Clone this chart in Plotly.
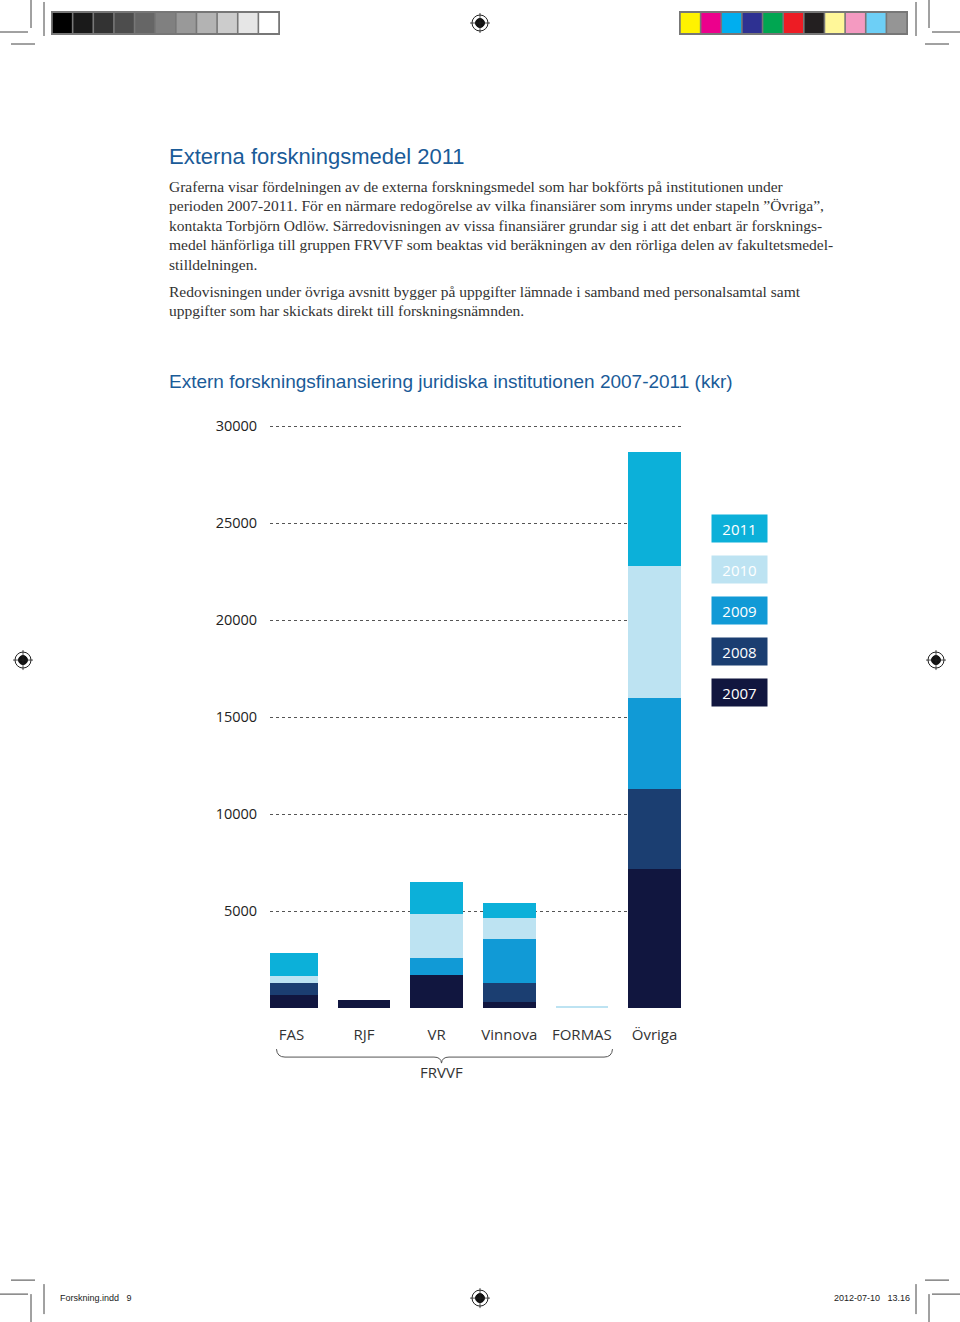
import plotly.graph_objects as go

W, H = 960, 1322

categories = ["FAS", "RJF", "VR", "Vinnova", "FORMAS", "Övriga"]
years = ["2007", "2008", "2009", "2010", "2011"]
v2007 = [655, 400, 1700, 325, 0, 7150]
v2008 = [650, 0, 0, 980, 0, 4125]
v2009 = [0, 0, 860, 2235, 0, 4720]
v2010 = [345, 0, 2270, 1080, 100, 6790]
v2011 = [1200, 0, 1665, 805, 0, 5890]
series = [v2007, v2008, v2009, v2010, v2011]
colors = ["#11163f", "#1b3e71", "#119ad6", "#bde3f2", "#0cb0d9"]
y_ticks = [5000, 10000, 15000, 20000, 25000, 30000]

title_text = "Externa forskningsmedel 2011"
chart_title = "Extern forskningsfinansiering juridiska institutionen 2007-2011 (kkr)"
body_lines = [
    "Graferna visar fördelningen av de externa forskningsmedel som har bokförts på institutionen under",
    "perioden 2007-2011. För en närmare redogörelse av vilka finansiärer som inryms under stapeln ”Övriga”,",
    "kontakta Torbjörn Odlöw. Särredovisningen av vissa finansiärer grundar sig i att det enbart är forsknings-",
    "medel hänförliga till gruppen FRVVF som beaktas vid beräkningen av den rörliga delen av fakultetsmedel-",
    "stilldelningen.",
]
body_lines2 = [
    "Redovisningen under övriga avsnitt bygger på uppgifter lämnade i samband med personalsamtal samt",
    "uppgifter som har skickats direkt till forskningsnämnden.",
]
group_label = "FRVVF"
footer_left = "Forskning.indd   9"
footer_right = "2012-07-10   13.16"
gray_strip = ["#000000", "#1a1a1a", "#333333", "#4d4d4d", "#666666", "#808080",
              "#999999", "#b3b3b3", "#cccccc", "#e6e6e6", "#ffffff"]
color_strip = ["#fff200", "#ec008c", "#00aeef", "#2e3192", "#00a651", "#ed1c24",
               "#231f20", "#fff799", "#f49ac1", "#6dcff6", "#959595"]


def px(x, y):
    yy = (y - 4) / 0.9969
    return x / W, 1 - yy / H


fig = go.Figure()
for yr, vals, col in zip(years, series, colors):
    fig.add_trace(go.Bar(x=categories, y=vals, name=yr, marker=dict(color=col, line=dict(width=0)),
                         showlegend=False))

x0, ytop = px(270, 420.2)
x1, ybot = px(681, 1008)

fig.update_layout(
    width=W, height=H, barmode="stack", bargap=0.277,
    margin=dict(l=0, r=0, t=0, b=0),
    paper_bgcolor="white", plot_bgcolor="white",
    xaxis=dict(domain=[x0, x1], range=[-0.296, 5.365], showgrid=False, showline=False,
               zeroline=False, ticks="outside", ticklen=13, tickcolor="rgba(0,0,0,0)",
               tickfont=dict(family="Open Sans", size=15, color="#333333")),
    yaxis=dict(domain=[ybot, ytop], range=[0, 30300], tickvals=y_ticks, tickformat="d",
               showgrid=True, gridcolor="#555555", gridwidth=1, griddash="3px,3px",
               zeroline=False, showline=False, ticks="outside", ticklen=9,
               tickcolor="rgba(0,0,0,0)",
               tickfont=dict(family="Open Sans", size=14.5, color="#222222")),
)

annotations = []
shapes = []

# Titles and body text
tx, ty = px(166.5, 156)
annotations.append(dict(x=tx, y=ty, xref="paper", yref="paper", xanchor="left", yanchor="middle",
                        text=title_text, showarrow=False,
                        font=dict(family="Liberation Sans", size=22, color="#1a5b98")))
for i, line in enumerate(body_lines):
    lx, ly = px(166.5, 186 + 19.5 * i)
    annotations.append(dict(x=lx, y=ly, xref="paper", yref="paper", xanchor="left", yanchor="middle",
                            text=line, showarrow=False,
                            font=dict(family="Liberation Serif", size=15.5, color="#333333")))
for i, line in enumerate(body_lines2):
    lx, ly = px(166.5, 291 + 19.5 * i)
    annotations.append(dict(x=lx, y=ly, xref="paper", yref="paper", xanchor="left", yanchor="middle",
                            text=line, showarrow=False,
                            font=dict(family="Liberation Serif", size=15.5, color="#333333")))
cx, cy = px(166.5, 381)
annotations.append(dict(x=cx, y=cy, xref="paper", yref="paper", xanchor="left", yanchor="middle",
                        text=chart_title, showarrow=False,
                        font=dict(family="Liberation Sans", size=19, color="#1a5b98")))

# Legend boxes
leg_centers = {"2011": 528.7, "2010": 569.7, "2009": 610.3, "2008": 651.3, "2007": 692.2}
for yr, col in zip(years, colors):
    lx, ly = px(739.8, leg_centers[yr])
    annotations.append(dict(x=lx, y=ly, xref="paper", yref="paper", xanchor="center", yanchor="middle",
                            text=yr, showarrow=False, width=55, height=27, borderpad=0,
                            bgcolor=col, font=dict(family="Open Sans", size=15, color="white")))

# Brace for FRVVF group
def P(x, y):
    a, b = px(x, y)
    return f"{a:.5f},{b:.5f}"

brace = (f"M {P(276.5,1049)} Q {P(277,1057)} {P(285,1057)} L {P(434,1057)} "
         f"Q {P(441,1057)} {P(441.5,1063)} Q {P(442,1057)} {P(449,1057)} L {P(604,1057)} "
         f"Q {P(612,1057)} {P(612.5,1049)}")
shapes.append(dict(type="path", path=brace, xref="paper", yref="paper",
                   line=dict(color="#555555", width=1)))
gx, gy = px(441, 1071.5)
annotations.append(dict(x=gx, y=gy, xref="paper", yref="paper", xanchor="center", yanchor="middle",
                        text=group_label, showarrow=False,
                        font=dict(family="Open Sans", size=15, color="#333333")))

# Print color strips
def rect(xa, ya, xb, yb, fill, line_col=None, lw=0):
    a, b = px(xa, ya)
    c, d = px(xb, yb)
    shapes.append(dict(type="rect", xref="paper", yref="paper", x0=a, y0=d, x1=c, y1=b,
                       fillcolor=fill, line=dict(color=line_col or fill, width=lw)))

cell = (279 - 52) / len(gray_strip)
rect(51, 11, 280, 35, "#777777")
for i, c in enumerate(gray_strip):
    rect(52 + i * cell + 0.8, 13, 52 + (i + 1) * cell - 0.8, 33, c)
cell2 = (907 - 680) / len(color_strip)
rect(679, 11, 908, 35, "#777777")
for i, c in enumerate(color_strip):
    rect(680 + i * cell2 + 0.8, 13, 680 + (i + 1) * cell2 - 0.8, 33, c)

# Crop marks
def seg(xa, ya, xb, yb, col="#444444", w=1):
    a, b = px(xa, ya)
    c, d = px(xb, yb)
    shapes.append(dict(type="line", xref="paper", yref="paper", x0=a, y0=b, x1=c, y1=d,
                       line=dict(color=col, width=w)))

for (xs, sgn) in [(0, 1), (W, -1)]:
    seg(xs + sgn * 31, 0, xs + sgn * 31, 28)
    seg(xs, 32, xs + sgn * 28, 32)
    seg(xs + sgn * 11, 44, xs + sgn * 35, 44)
    seg(xs + sgn * 44, 2, xs + sgn * 44, 36)
    seg(xs + sgn * 31, H - 28, xs + sgn * 31, H)
    seg(xs, H - 28, xs + sgn * 28, H - 28)
    seg(xs + sgn * 11, H - 42, xs + sgn * 35, H - 42)
    seg(xs + sgn * 44, H - 38, xs + sgn * 44, H - 8)

# Registration marks
for (rx, ry) in [(480, 23), (23, 660), (936, 660), (480, 1298)]:
    a, b = px(rx - 8, ry - 8)
    c, d = px(rx + 8, ry + 8)
    shapes.append(dict(type="circle", xref="paper", yref="paper", x0=a, y0=d, x1=c, y1=b,
                       line=dict(color="#222222", width=1)))
    a, b = px(rx - 4.5, ry - 4.5)
    c, d = px(rx + 4.5, ry + 4.5)
    shapes.append(dict(type="circle", xref="paper", yref="paper", x0=a, y0=d, x1=c, y1=b,
                       fillcolor="#111111", line=dict(color="#111111", width=1)))
    seg(rx - 10, ry, rx + 10, ry, "#222222", 0.8)
    seg(rx, ry - 10, rx, ry + 10, "#222222", 0.8)

# Footer
fx, fy = px(58, 1298)
annotations.append(dict(x=fx, y=fy, xref="paper", yref="paper", xanchor="left", yanchor="middle",
                        text=footer_left, showarrow=False,
                        font=dict(family="Liberation Sans Narrow, Liberation Sans", size=9, color="#222222")))
fx, fy = px(912, 1298)
annotations.append(dict(x=fx, y=fy, xref="paper", yref="paper", xanchor="right", yanchor="middle",
                        text=footer_right, showarrow=False,
                        font=dict(family="Liberation Sans Narrow, Liberation Sans", size=9, color="#222222")))

fig.update_layout(annotations=annotations, shapes=shapes)
fig.write_html("out.html", config={"displayModeBar": False},
               post_script="document.body.style.margin='0';document.body.style.overflow='hidden';"
                           "document.documentElement.style.overflow='hidden';")
